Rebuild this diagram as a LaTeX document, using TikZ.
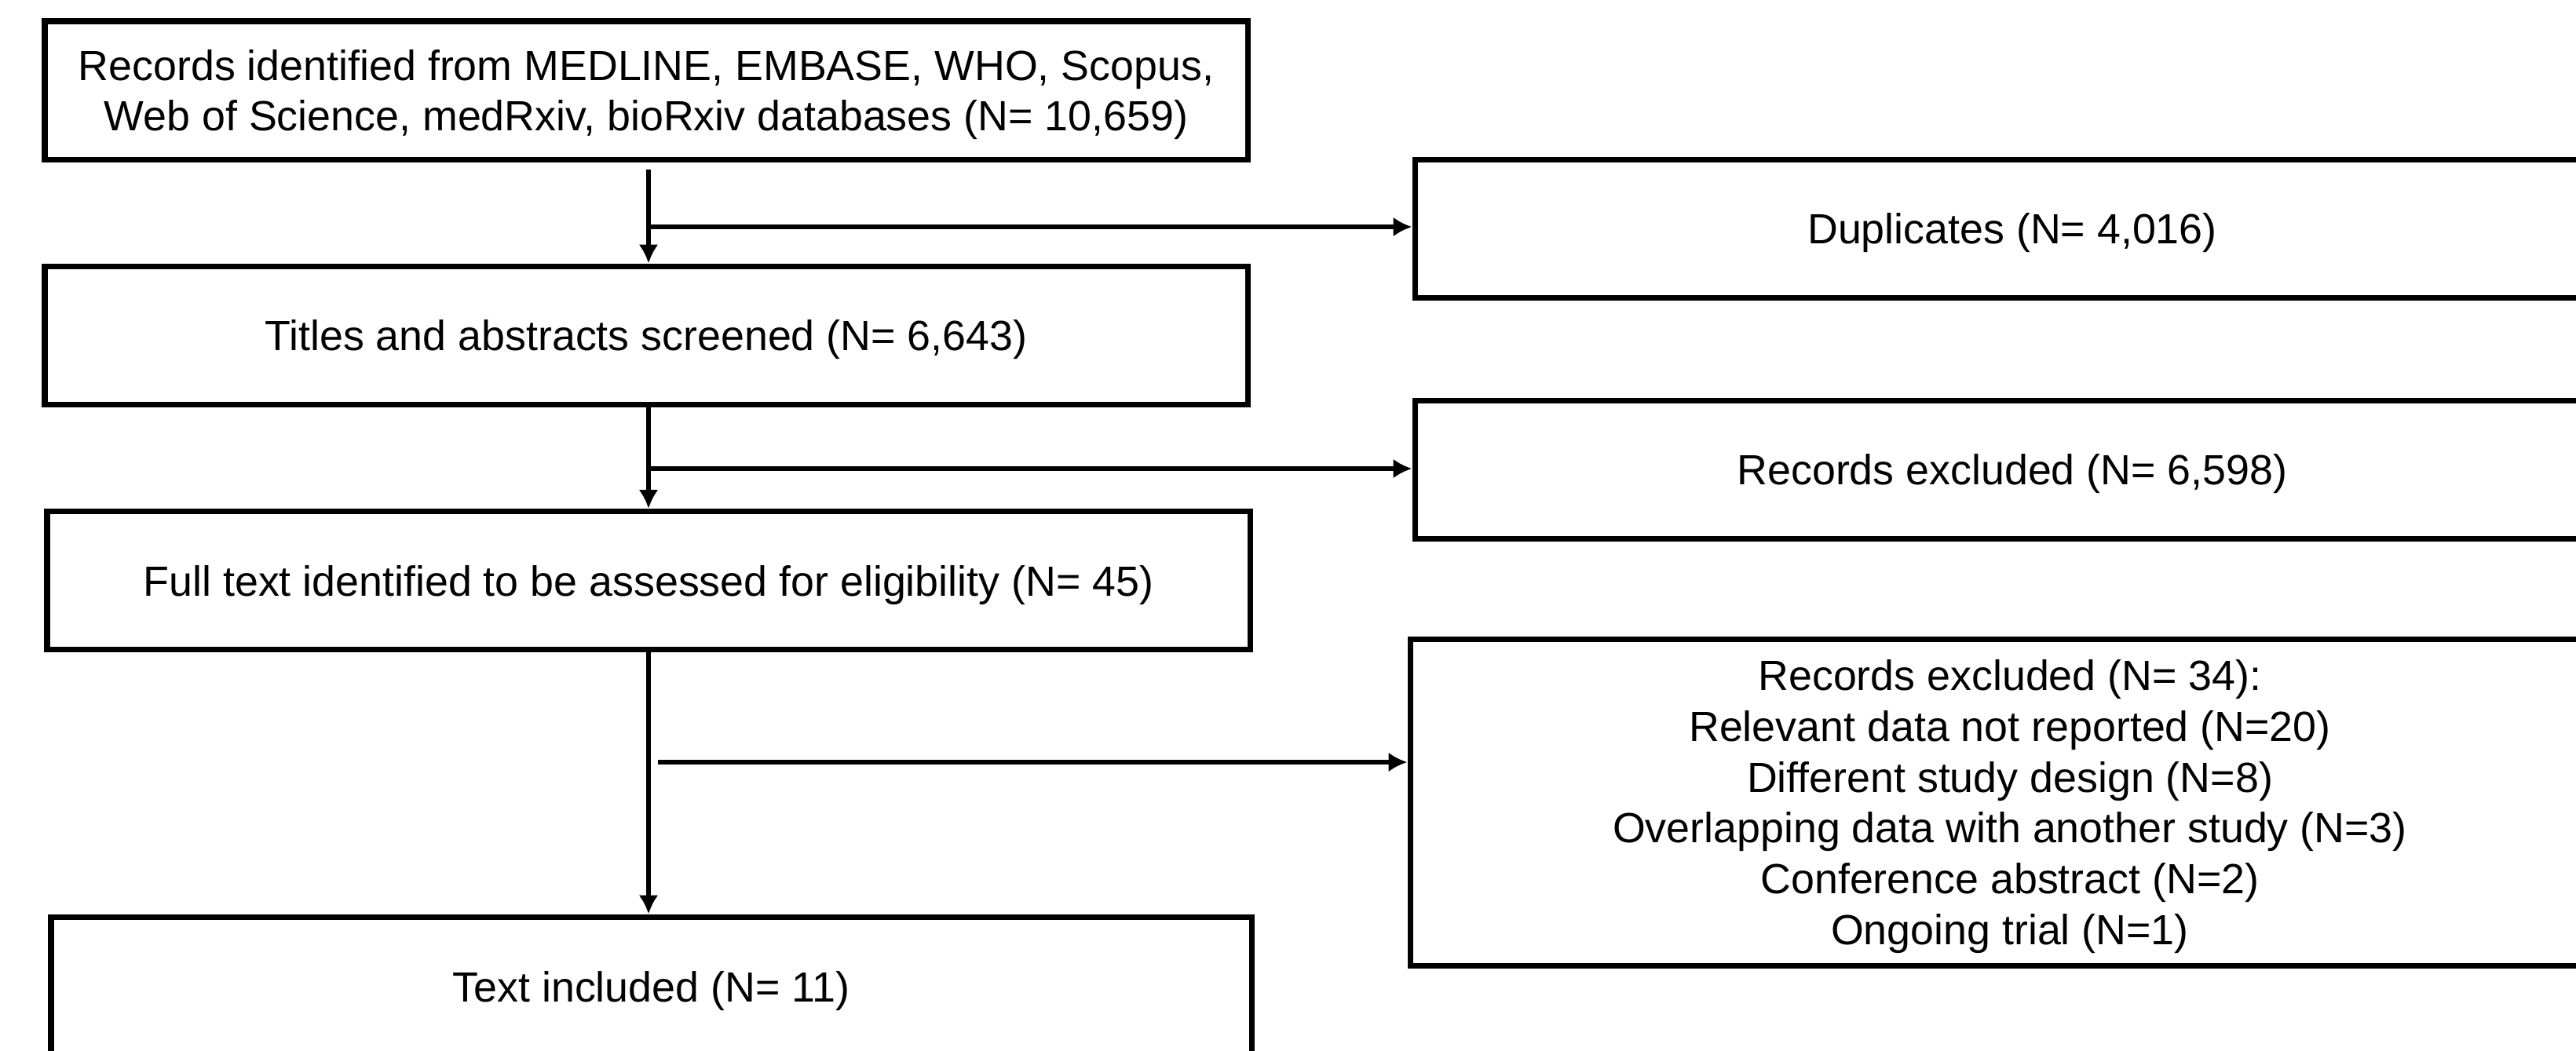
\documentclass[tikz,border=0pt]{standalone}
\usepackage{fontspec}
\setmainfont{Liberation Sans}
\usetikzlibrary{positioning,arrows.meta,calc}

\begin{document}
\begin{tikzpicture}[
    box/.style={draw, line width=2pt, minimum width=15.32cm, minimum height=1.76cm, inner sep=0pt, text depth=0pt, align=center, font=\fontsize{15.3pt}{18.4pt}\selectfont},
    sidebox/.style={box, minimum width=15.22cm},
    arr/.style={line width=1.9pt, -{Latex[length=0.24cm, width=0.25cm]}}
  ]
    \path[use as bounding box, clip] (0,0) rectangle (32.81,-13.38);
    \node[box] (records) at (8.23,-1.15) {Records identified from MEDLINE, EMBASE, WHO, Scopus,\\Web of Science, medRxiv, bioRxiv databases (N= 10,659)};
    \node[box] (screened) at (8.23,-4.27) {Titles and abstracts screened (N= 6,643)};
    \node[box] (fulltext) at (8.26,-7.395) {Full text identified to be assessed for eligibility (N= 45)};
    \node[box, minimum width=15.29cm, minimum height=1.78cm] (included) at (8.295,-12.57) {Text included (N= 11)};
    \node[sidebox] (dup) at (25.63,-2.91) {Duplicates (N= 4,016)};
    \node[sidebox] (excl) at (25.63,-5.98) {Records excluded (N= 6,598)};
    \node[sidebox, minimum width=15.28cm, minimum height=4.16cm] (excl2) at (25.60,-10.22) {Records excluded (N= 34):\\Relevant data not reported (N=20)\\Different study design (N=8)\\Overlapping data with another study (N=3)\\Conference abstract (N=2)\\Ongoing trial (N=1)};
    \coordinate (b1) at (8.26,-2.89);
    \coordinate (b2) at (8.26,-5.97);
    \coordinate (b3) at (8.38,-9.71);
    \draw[arr] ([yshift=-0.09cm]records.south -| b1) -- (screened.north -| b1);
    \draw[arr] (screened.south -| b2) -- (fulltext.north -| b2);
    \draw[arr] (fulltext.south -| b2) -- (included.north -| b2);
    \draw[arr] (b1) -- (b1 -| dup.west);
    \draw[arr] (b2) -- (b2 -| excl.west);
    \draw[arr] (b3) -- (b3 -| excl2.west);
\end{tikzpicture}
\end{document}
